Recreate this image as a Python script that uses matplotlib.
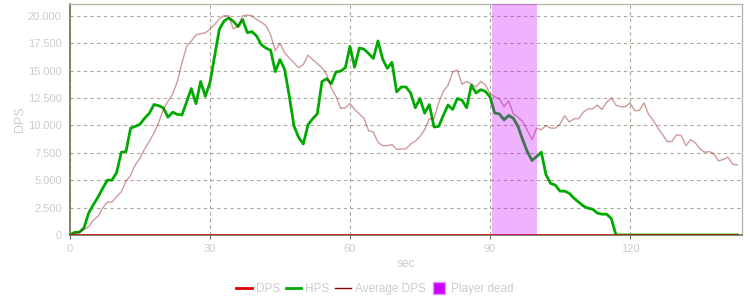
import matplotlib
matplotlib.use('Agg')
import matplotlib.pyplot as plt
from matplotlib.lines import Line2D
from matplotlib.ticker import FuncFormatter
import numpy as np

plt.rcParams['font.family'] = ['Liberation Sans', 'DejaVu Sans']

# seconds 0..143
sec = np.arange(144)

hps = [0, 250, 250, 650, 2000, 2750, 3450, 4250, 5000, 5000,
       5700, 7550, 7600, 9750, 9900, 10100, 10650, 11100, 11900, 11800,
       11600, 10750, 11200, 11000, 10950, 12150, 13350, 11980, 14000, 12650,
       13900, 16300, 18750, 19500, 19800, 19500, 19000, 19650, 18450, 18550,
       18150, 17350, 17050, 16850, 14900, 16000, 15100, 12650, 9950, 8900,
       8300, 10050, 10600, 11050, 14000, 14250, 13800, 14870, 14950, 15250,
       17200, 15300, 17050, 16950, 16550, 16100, 17700, 16050, 15200, 15750,
       13050, 13500, 13500, 12950, 11600, 12450, 11100, 11900, 9850, 9900,
       10900, 11850, 11450, 12450, 12300, 11600, 13650, 12950, 13250, 13100,
       12600, 11130, 11050, 10500, 10900, 10650, 9900, 8700, 7600, 6800,
       7150, 7550, 5500, 4700, 4550, 4000, 4000, 3800, 3350, 3000,
       2650, 2450, 2350, 2000, 1900, 1900, 1500, 0, 0, 0,
       0, 0, 0, 0, 0, 0, 0, 0, 0, 0,
       0, 0, 0, 0, 0, 0, 0, 0, 0, 0,
       0, 0, 0, 0]

avg_dps = [0, 150, 250, 500, 750, 1350, 1700, 2450, 3000, 3000,
           3500, 3950, 4900, 5450, 6400, 7000, 7850, 8550, 9300, 10250,
           11450, 12200, 12850, 14000, 15700, 17200, 17700, 18250, 18350, 18450,
           18750, 19200, 19700, 20000, 20000, 18800, 19050, 20000, 20050, 20000,
           19650, 19400, 19100, 18250, 16800, 17500, 16600, 16150, 15700, 15250,
           15550, 16400, 16000, 15650, 15250, 14650, 13400, 12650, 11550, 11600,
           12000, 11450, 11050, 10650, 9500, 9400, 8450, 8150, 8150, 8250,
           7800, 7850, 7850, 8300, 8550, 9000, 9600, 10600, 10600, 12050,
           13100, 13650, 14850, 15050, 13750, 14000, 13800, 13500, 14000, 13700,
           12900, 12600, 12450, 11700, 12250, 11050, 10750, 10350, 9550, 8700,
           9750, 9600, 10000, 9750, 9750, 10100, 10900, 10300, 10600, 10600,
           11200, 11500, 11500, 11850, 11450, 12100, 12500, 11850, 11700, 11700,
           12050, 11350, 11350, 12050, 11000, 10450, 9750, 9150, 8500, 8550,
           9150, 9050, 8150, 8700, 8400, 7850, 7550, 7600, 7400, 6750,
           6900, 7100, 6450, 6400]

dps = [0] * 144

dead_start = 90.5
dead_end = 100.0

fig = plt.figure(figsize=(7.5, 3), dpi=100)
ax = fig.add_axes([0.0933, 0.2167, 0.8960, 0.7700])

ax.plot(sec, hps, color='#00aa00', linewidth=2, zorder=3)
ax.plot(sec, avg_dps, color='#8b0000', linewidth=1, alpha=0.4, zorder=3)
ax.plot(sec, dps, color='#e00000', linewidth=2, alpha=0.75, zorder=4)
ax.axvspan(dead_start, dead_end, color='#cc00ff', alpha=0.3, linewidth=0, zorder=5)

ax.set_xlim(0, 144)
ax.set_ylim(0, 21070)
ax.set_xticks([0, 30, 60, 90, 120])
ax.set_yticks(np.arange(0, 20001, 2500))
ax.yaxis.set_major_formatter(FuncFormatter(lambda v, p: f"{int(v):,}".replace(',', '.')))

ax.grid(True, color='#a8a898', linestyle=(0, (3, 3)), linewidth=0.8)
ax.set_axisbelow(True)

for s in ['left', 'bottom']:
    ax.spines[s].set_color('#707058')
    ax.spines[s].set_linewidth(1.2)
for s in ['top', 'right']:
    ax.spines[s].set_color('#b8b8a8')
    ax.spines[s].set_linewidth(1)

ax.tick_params(axis='both', colors='#707058', labelcolor='#cccccc', labelsize=8, length=3)
ax.tick_params(axis='y', length=0, pad=6)

ax.set_xlabel('sec', color='#cccccc', fontsize=8.5, labelpad=3)
ax.set_ylabel('DPS', color='#cccccc', fontsize=9, labelpad=1)

handles = [
    Line2D([0], [0], color='#e00000', linewidth=2),
    Line2D([0], [0], color='#00aa00', linewidth=2),
    Line2D([0], [0], color='#8b0000', linewidth=1),
    Line2D([0], [0], linestyle='none', marker='s', markersize=9,
           markerfacecolor='#cc00ff', markeredgecolor='#e090ff'),
]
labels = ['DPS', 'HPS', 'Average DPS', 'Player dead']
leg = fig.legend(handles, labels, loc='center', bbox_to_anchor=(0.5, 0.037), ncol=4,
                 frameon=False, fontsize=8.5, handlelength=1.3, handletextpad=0.35,
                 columnspacing=0.5, labelcolor='#cccccc')

fig.savefig('out.png', dpi=100)
